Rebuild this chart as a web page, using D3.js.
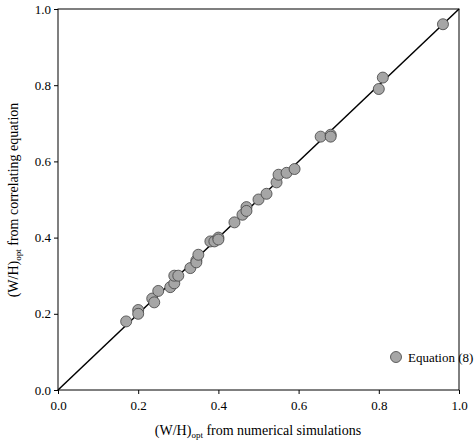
<!DOCTYPE html>
<html>
<head>
<meta charset="utf-8">
<script src="https://d3js.org/d3.v7.min.js"></script>
<style>
body { margin: 0; background: #fff; }
text { font-family: "Liberation Serif", "DejaVu Serif", serif; }
</style>
</head>
<body>
<div id="chart"></div>
<script>
// x: from numerical simulations, y: from correlating equation
const simVals = [0.17,0.20,0.20,0.235,0.24,0.25,0.28,0.29,0.29,0.30,0.33,0.345,0.345,0.35,0.38,0.39,0.40,0.40,0.44,0.46,0.47,0.47,0.50,0.52,0.545,0.55,0.57,0.59,0.655,0.68,0.68,0.80,0.81,0.96];
const eqVals  = [0.18,0.21,0.20,0.24,0.23,0.26,0.27,0.28,0.30,0.30,0.32,0.34,0.335,0.355,0.39,0.39,0.40,0.395,0.44,0.46,0.48,0.47,0.50,0.515,0.545,0.565,0.57,0.58,0.665,0.67,0.665,0.79,0.82,0.96];
const ticks = [0, 0.2, 0.4, 0.6, 0.8, 1.0];

const width = 474, height = 446;
const svg = d3.select("#chart").append("svg").attr("width", width).attr("height", height);

const x = d3.scaleLinear().domain([0, 1]).range([58, 459]);
const y = d3.scaleLinear().domain([0, 1]).range([390, 9]);

svg.append("rect").attr("x", 58).attr("y", 9).attr("width", 401).attr("height", 381)
    .attr("fill", "none").attr("stroke", "#000").attr("stroke-width", 1);

const xAxis = svg.append("g").attr("transform", "translate(0,390)")
    .call(d3.axisBottom(x).tickValues(ticks).tickFormat(d3.format(".1f")).tickSize(4).tickSizeOuter(0));
const yAxis = svg.append("g").attr("transform", "translate(58,0)")
    .call(d3.axisLeft(y).tickValues(ticks).tickFormat(d3.format(".1f")).tickSize(4).tickSizeOuter(0));
[xAxis, yAxis].forEach(a => {
    a.select(".domain").remove();
    a.selectAll("text").attr("font-size", 13).attr("fill", "#000")
        .style("font-family", "Liberation Serif, serif");
});
xAxis.selectAll("text").attr("dy", "1em");

// 1:1 line
svg.append("line").attr("x1", x(0)).attr("y1", y(0)).attr("x2", x(1)).attr("y2", y(1))
    .attr("stroke", "#000").attr("stroke-width", 1.5);

svg.selectAll(".pt").data(simVals.map((v, i) => [v, eqVals[i]])).enter()
    .append("circle").attr("class", "pt")
    .attr("cx", d => x(d[0])).attr("cy", d => y(d[1])).attr("r", 5.5)
    .attr("fill", "#a6a6a6").attr("stroke", "#404040").attr("stroke-width", 0.8);

// legend
svg.append("circle").attr("cx", 396).attr("cy", 357).attr("r", 5.5)
    .attr("fill", "#a6a6a6").attr("stroke", "#404040").attr("stroke-width", 0.8);
svg.append("text").attr("x", 408).attr("y", 362).attr("font-size", 13).text("Equation (8)");

// axis titles
const xt = svg.append("text").attr("x", 258).attr("y", 435).attr("text-anchor", "middle").attr("font-size", 14);
xt.append("tspan").text("(W/H)");
xt.append("tspan").attr("font-size", 9).attr("dy", 3).text("opt");
xt.append("tspan").attr("dy", -3).text(" from numerical simulations");

const yt = svg.append("text").attr("transform", "translate(18,200) rotate(-90)")
    .attr("text-anchor", "middle").attr("font-size", 14);
yt.append("tspan").text("(W/H)");
yt.append("tspan").attr("font-size", 9).attr("dy", 3).text("opt");
yt.append("tspan").attr("dy", -3).text(" from correlating equation");
</script>
</body>
</html>
